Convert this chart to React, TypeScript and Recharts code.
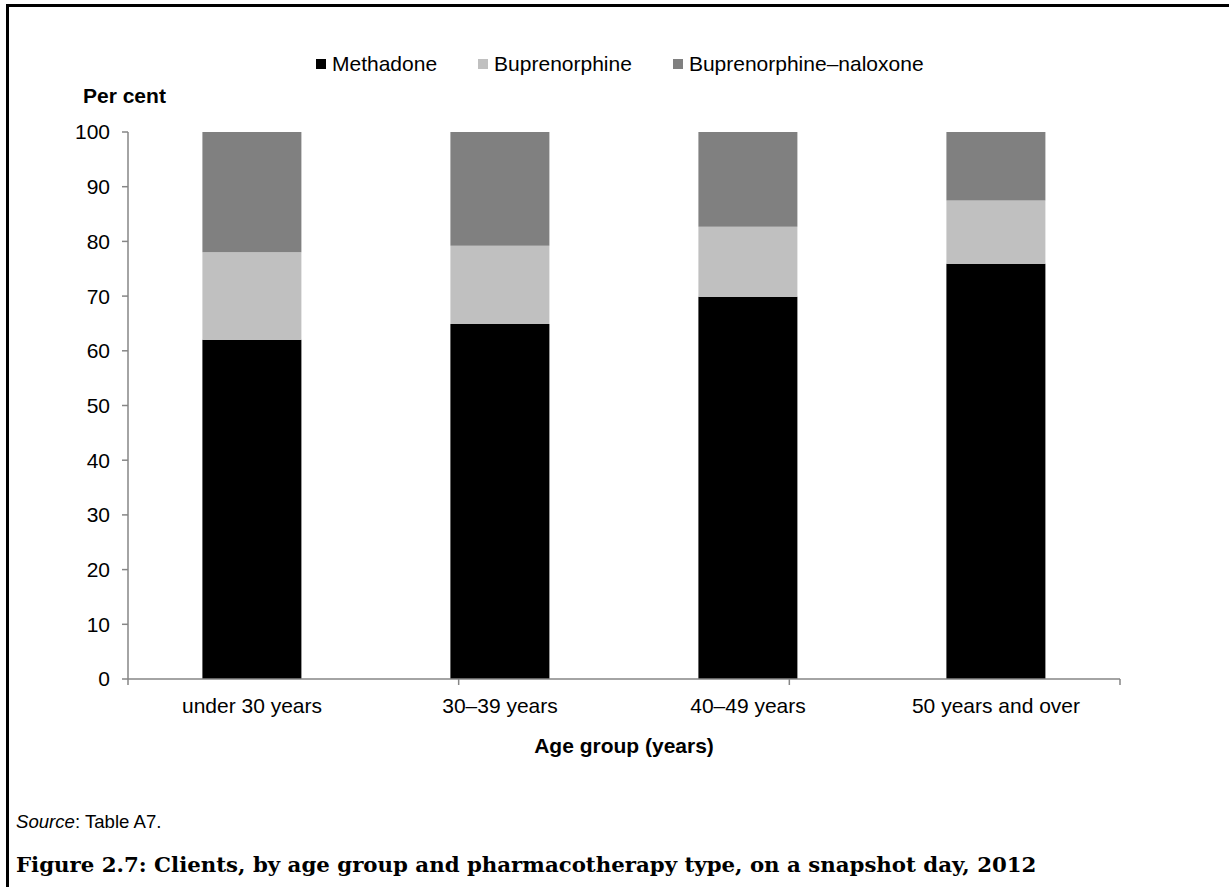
import React from 'react';
import { BarChart, Bar, XAxis, YAxis } from 'recharts';

const groups = ['under 30 years', '30–39 years', '40–49 years', '50 years and over'];
const methadone = [62.0, 64.9, 69.9, 75.9];
const buprenorphine = [16.0, 14.3, 12.8, 11.6];
const bupNaloxone = [22.0, 20.8, 17.3, 12.5];
const yTicks = [0, 10, 20, 30, 40, 50, 60, 70, 80, 90, 100];
const edgeTicks = [0, 1, 2, 3, 4];

const seriesNames = ['Methadone', 'Buprenorphine', 'Buprenorphine–naloxone'];
const seriesKeys = ['methadone', 'buprenorphine', 'bupNaloxone'];
const seriesColors = ['#000000', '#c0c0c0', '#808080'];

const data = groups.map((g, i) => ({
  group: g,
  methadone: methadone[i],
  buprenorphine: buprenorphine[i],
  bupNaloxone: bupNaloxone[i],
}));

const SANS = '"Liberation Sans", Arial, sans-serif';
const AXIS = '#868686';

export default function App() {
  return (
    <div style={{ position: 'absolute', left: 0, top: 0, width: 1229, height: 887, overflow: 'hidden', background: '#fff', fontFamily: SANS }}>
      <div style={{ position: 'absolute', left: 6, top: 4, width: 1300, height: 1000, borderLeft: '3px solid #000', borderTop: '3px solid #000' }} />
      <div style={{ position: 'absolute', left: 0, top: 0 }}>
        <BarChart
          width={1229}
          height={887}
          data={data}
          margin={{ top: 132, right: 109, bottom: 147, left: 0 }}
          barCategoryGap="30%"
        >
          <XAxis
            xAxisId="a_edge"
            type="number"
            domain={[0, 4]}
            allowDataOverflow
            ticks={edgeTicks}
            height={1}
            tickSize={6}
            axisLine={{ stroke: AXIS, strokeWidth: 1.5 }}
            tickLine={{ stroke: AXIS, strokeWidth: 1.5 }}
            tickFormatter={() => ''}
            tick={{ fill: 'none' }}
          />
          <XAxis
            xAxisId="b_cat"
            dataKey="group"
            height={60}
            axisLine={false}
            tickLine={false}
            tickSize={0}
            tickMargin={18}
            interval={0}
            tick={{ fill: '#000', fontSize: 21, fontFamily: SANS }}
          />
          <YAxis
            width={128}
            domain={[0, 100]}
            ticks={yTicks}
            interval={0}
            tickSize={6}
            tickMargin={12}
            axisLine={{ stroke: AXIS, strokeWidth: 1.5 }}
            tickLine={{ stroke: AXIS, strokeWidth: 1.5 }}
            tick={{ fill: '#000', fontSize: 21, fontFamily: SANS }}
          />
          {seriesKeys.map((k, i) => (
            <Bar key={k} xAxisId="b_cat" dataKey={k} name={seriesNames[i]} stackId="s" fill={seriesColors[i]} isAnimationActive={false} />
          ))}
        </BarChart>
      </div>
      <div style={{ position: 'absolute', left: 316, top: 53, display: 'flex', alignItems: 'center', fontSize: 21, lineHeight: '21px', color: '#000', whiteSpace: 'nowrap' }}>
        {seriesNames.map((n, i) => (
          <div key={n} style={{ display: 'flex', alignItems: 'center', marginRight: 41 }}>
            <span style={{ display: 'inline-block', width: 10, height: 10, background: seriesColors[i], marginRight: 6 }} />
            <span>{n}</span>
          </div>
        ))}
      </div>
      <div style={{ position: 'absolute', left: 83, top: 85, fontSize: 21, lineHeight: '21px', fontWeight: 'bold', whiteSpace: 'nowrap' }}>Per cent</div>
      <div style={{ position: 'absolute', left: 424, width: 400, top: 735, fontSize: 21, lineHeight: '21px', fontWeight: 'bold', textAlign: 'center' }}>Age group (years)</div>
      <div style={{ position: 'absolute', left: 16, top: 813, fontSize: 18.6, lineHeight: '18px', whiteSpace: 'nowrap' }}>
        <i>Source</i>: Table A7.
      </div>
      <div style={{ position: 'absolute', left: 16, top: 854, fontSize: 21.3, lineHeight: '22px', fontWeight: 'bold', fontFamily: '"DejaVu Serif", serif', whiteSpace: 'nowrap' }}>
        Figure 2.7: Clients, by age group and pharmacotherapy type, on a snapshot day, 2012
      </div>
    </div>
  );
}
